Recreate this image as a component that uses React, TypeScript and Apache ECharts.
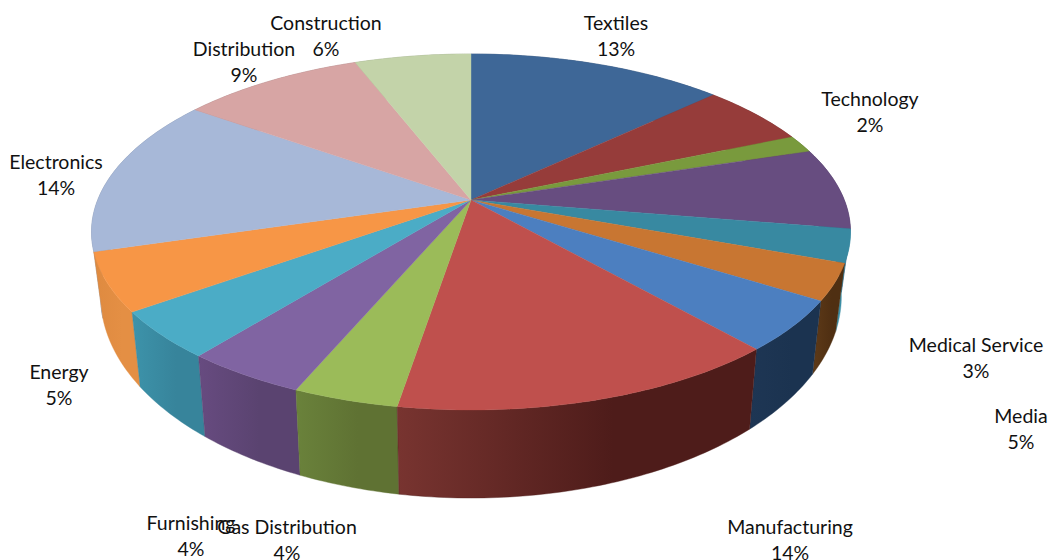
import React, { useEffect, useRef } from "react";
import * as echarts from "echarts";

// Sector shares in percent, clockwise from twelve o'clock. An empty name means no label.
const sectors = [
  "Textiles", "", "Technology", "", "Medical Service", "", "Media", "Manufacturing",
  "Gas Distribution", "Furnishing", "", "Energy", "Electronics", "Distribution", "Construction",
];
const shares = [13.0, 5.6, 1.6, 7.4, 3.0, 3.3, 4.6, 14.1, 3.8, 4.4, 4.3, 5.3, 14.4, 9.3, 5.9];

const topColors = [
  "#3e6797", "#963c3a", "#799a3d", "#674d80", "#3889a1", "#c87632", "#4c7fc0", "#bf504d",
  "#9bbb59", "#8064a2", "#4bacc6", "#f79646", "#a7b8d8", "#d7a5a4", "#c3d3a9",
];
const wallLeft = [
  "#2d4a6e", "#6e2b2a", "#56702b", "#4a375d", "#3b8ea5", "#5e3a18", "#1e3654", "#783430",
  "#6a823b", "#674b80", "#3d93aa", "#de8a40", "#7b88a0", "#9e7a79", "#8f9b7c",
];
const wallRight = [
  "#2d4a6e", "#6e2b2a", "#56702b", "#4a375d", "#3b8ea5", "#4f2f12", "#1b3350", "#4e1c1a",
  "#5f7233", "#5a4370", "#37849b", "#e48f44", "#7b88a0", "#9e7a79", "#8f9b7c",
];

// Label anchors (centre of the two-line block), in the same order as the sectors.
const labelX = [616, 0, 870, 0, 976, 0, 1021, 790, 287, 191, 0, 59, 56, 244, 326];
const labelY = [35, 0, 111, 0, 357, 0, 428, 539, 539, 535, 0, 384, 174, 61, 35];

// Projection of the disc: top rim ellipse, and the vanishing shift of its hub.
const CX = 471;
const CY = 232;
const RX = 379.5;
const RY = 178;
const HUB = -0.18;
const WIDTH_SCALE = 0.976;
const DEPTH_AT_CENTRE = 64;
const DEPTH_SLOPE = 0.135;

const total = shares.reduce((a, b) => a + b, 0);
const startOf = (i: number) =>
  (shares.slice(0, i).reduce((a, b) => a + b, 0) / total) * Math.PI * 2;

// Top-rim point for a clockwise angle measured from twelve o'clock.
function rim(theta: number): [number, number] {
  const a = Math.sin(theta);
  const b = -Math.cos(theta);
  const d = 1 + b * HUB;
  const u = (a * Math.sqrt(1 - HUB * HUB)) / d;
  const v = (b + HUB) / d;
  return [CX + u * RX, CY + v * RY];
}

// The same rim point on the lower face of the disc.
function lower([x, y]: [number, number]): [number, number] {
  return [
    CX + (x - CX) * WIDTH_SCALE,
    y + DEPTH_AT_CENTRE + DEPTH_SLOPE * (y - CY),
  ];
}

function arcPoints(i: number): [number, number][] {
  const a0 = startOf(i);
  const a1 = startOf(i + 1);
  const steps = Math.max(2, Math.ceil((a1 - a0) / 0.015));
  const pts: [number, number][] = [];
  for (let s = 0; s <= steps; s++) pts.push(rim(a0 + ((a1 - a0) * s) / steps));
  return pts;
}

// Walls are painted from the back of the disc to the front.
const wallOrder = shares
  .map((_, i) => i)
  .sort((p, q) => {
    const mid = (i: number) => -Math.cos((startOf(i) + startOf(i + 1)) / 2);
    return mid(p) - mid(q);
  });

export default function App() {
  const ref = useRef<HTMLDivElement>(null);

  useEffect(() => {
    const chart = echarts.init(ref.current!, null, { renderer: "svg" });
    chart.setOption({
      animation: false,
      backgroundColor: "#ffffff",
      series: [
        {
          type: "custom",
          coordinateSystem: "none",
          silent: true,
          z: 1,
          data: wallOrder.map((i) => [shares[i]]),
          renderItem: (params: any) => {
            const i = wallOrder[params.dataIndex];
            const top = arcPoints(i);
            const bottom = top.map(lower).reverse();
            return {
              type: "polygon",
              shape: { points: [...top, ...bottom] },
              style: {
                fill: new echarts.graphic.LinearGradient(0, 0, 1, 0, [
                  { offset: 0, color: wallLeft[i] },
                  { offset: 0.6, color: wallRight[i] },
                  { offset: 1, color: wallRight[i] },
                ]),
                stroke: wallRight[i],
                lineWidth: 0.4,
              },
            };
          },
        },
        {
          type: "custom",
          coordinateSystem: "none",
          silent: true,
          z: 2,
          data: shares.map((v) => [v]),
          renderItem: (params: any) => {
            const i = params.dataIndex;
            const hub = [CX, CY + HUB * RY];
            return {
              type: "polygon",
              shape: { points: [hub, ...arcPoints(i)] },
              style: { fill: topColors[i], stroke: topColors[i], lineWidth: 0.4 },
            };
          },
        },
        {
          type: "custom",
          coordinateSystem: "none",
          silent: true,
          z: 3,
          data: shares.map((v) => [v]),
          renderItem: (params: any, api: any) => {
            const i = params.dataIndex;
            if (!sectors[i]) return null;
            return {
              type: "text",
              style: {
                x: labelX[i],
                y: labelY[i],
                text: `${sectors[i]}\n${Math.round((api.value(0) / total) * 100)}%`,
                font: '19.5px Lato, "Open Sans", sans-serif',
                fill: "#111111",
                align: "center",
                verticalAlign: "middle",
                lineHeight: 26,
              },
            };
          },
        },
      ],
    });
    return () => chart.dispose();
  }, []);

  return (
    <div
      ref={ref}
      style={{ position: "absolute", left: 0, top: 0, width: 1050, height: 560 }}
    />
  );
}
